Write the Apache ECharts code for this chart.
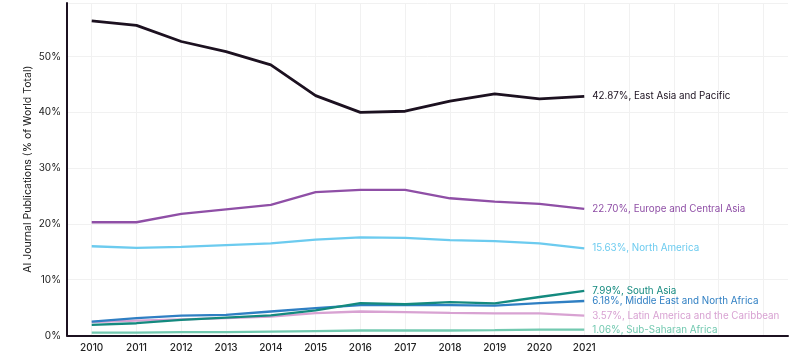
<!DOCTYPE html>
<html>
<head>
<meta charset="utf-8">
<script src="https://cdn.jsdelivr.net/npm/echarts@6/dist/echarts.min.js"></script>
<style>
html,body{margin:0;padding:0;background:#fff;}
#chart{width:800px;height:358px;}
</style>
</head>
<body>
<div id="chart"></div>
<script>
var years = [2010, 2011, 2012, 2013, 2014, 2015, 2016, 2017, 2018, 2019, 2020, 2021];
var gridYears = [2010, 2011, 2012, 2013, 2014, 2015, 2016, 2017, 2018, 2019, 2020, 2021, 2022, 2023, 2024, 2025];

var eastAsia   = [56.4, 55.6, 52.7, 50.9, 48.5, 43.0, 40.0, 40.2, 42.0, 43.3, 42.4, 42.87];
var europe     = [20.3, 20.3, 21.8, 22.6, 23.4, 25.7, 26.1, 26.1, 24.6, 24.0, 23.6, 22.70];
var northAm    = [16.0, 15.7, 15.9, 16.2, 16.5, 17.2, 17.6, 17.5, 17.1, 16.9, 16.5, 15.63];
var southAsia  = [1.9, 2.2, 2.8, 3.2, 3.6, 4.5, 5.8, 5.6, 6.0, 5.75, 6.9, 7.99];
var mena       = [2.5, 3.1, 3.55, 3.7, 4.3, 4.9, 5.45, 5.5, 5.45, 5.35, 5.8, 6.18];
var latAm      = [2.4, 2.65, 2.9, 3.1, 3.4, 4.0, 4.3, 4.2, 4.05, 3.95, 3.95, 3.57];
var subSahara  = [0.5, 0.5, 0.6, 0.6, 0.7, 0.8, 0.9, 0.9, 0.9, 0.95, 1.05, 1.06];

var seriesDefs = [
  {name: 'Sub-Saharan Africa', data: subSahara, color: '#72c9b0', w: 2.3},
  {name: 'Latin America and the Caribbean', data: latAm, color: '#d8a2d2', w: 2.3},
  {name: 'Middle East and North Africa', data: mena, color: '#2f7fc3', w: 2.3},
  {name: 'South Asia', data: southAsia, color: '#148a7f', w: 2.3},
  {name: 'North America', data: northAm, color: '#6ccbef', w: 2.3},
  {name: 'Europe and Central Asia', data: europe, color: '#8f4fa6', w: 2.3},
  {name: 'East Asia and Pacific', data: eastAsia, color: '#1c1120', w: 2.8}
];

var FONT = 'Inter, "Noto Sans", sans-serif';

var series = seriesDefs.map(function (s) {
  return {
    name: s.name,
    type: 'line',
    symbol: 'none',
    smooth: false,
    data: years.map(function (y, i) { return [y, s.data[i]]; }),
    lineStyle: {color: s.color, width: s.w},
    itemStyle: {color: s.color},
    emphasis: {disabled: true},
    endLabel: {
      show: true,
      distance: 8,
      color: s.color,
      fontFamily: FONT,
      fontSize: 9.8,
      formatter: function (p) { return p.value[1].toFixed(2) + '%, ' + p.seriesName; }
    }
  };
});

var chart = echarts.init(document.getElementById('chart'), null, {renderer: 'canvas'});
chart.setOption({
  animation: false,
  backgroundColor: '#fff',
  grid: {left: 67, right: 12, top: 3, bottom: 22.5, containLabel: false},
  xAxis: {
    type: 'value',
    min: 2009.448,
    max: 2025.55,
    axisLine: {show: true, onZero: false, lineStyle: {color: '#1c1120', width: 2}},
    axisTick: {show: false, customValues: gridYears},
    axisLabel: {
      customValues: years,
      color: '#222',
      fontFamily: FONT,
      fontSize: 10,
      fontWeight: 500,
      margin: 7,
      formatter: function (v) { return String(v); }
    },
    splitLine: {show: true, lineStyle: {color: '#f1f1f1', width: 1}}
  },
  yAxis: {
    type: 'value',
    min: 0,
    max: 59.6,
    interval: 10,
    name: 'AI Journal Publications (% of World Total)',
    nameLocation: 'middle',
    nameGap: 34,
    nameMoveOverlap: false,
    nameTextStyle: {color: '#222', fontFamily: FONT, fontSize: 10.5},
    axisLine: {show: true, lineStyle: {color: '#1c1120', width: 2}},
    axisTick: {show: false},
    axisLabel: {
      showMaxLabel: false,
      color: '#222',
      fontFamily: FONT,
      fontSize: 10,
      margin: 6,
      formatter: function (v) { return v + '%'; }
    },
    splitLine: {show: true, lineStyle: {color: '#f1f1f1', width: 1}}
  },
  series: series
});
</script>
</body>
</html>
